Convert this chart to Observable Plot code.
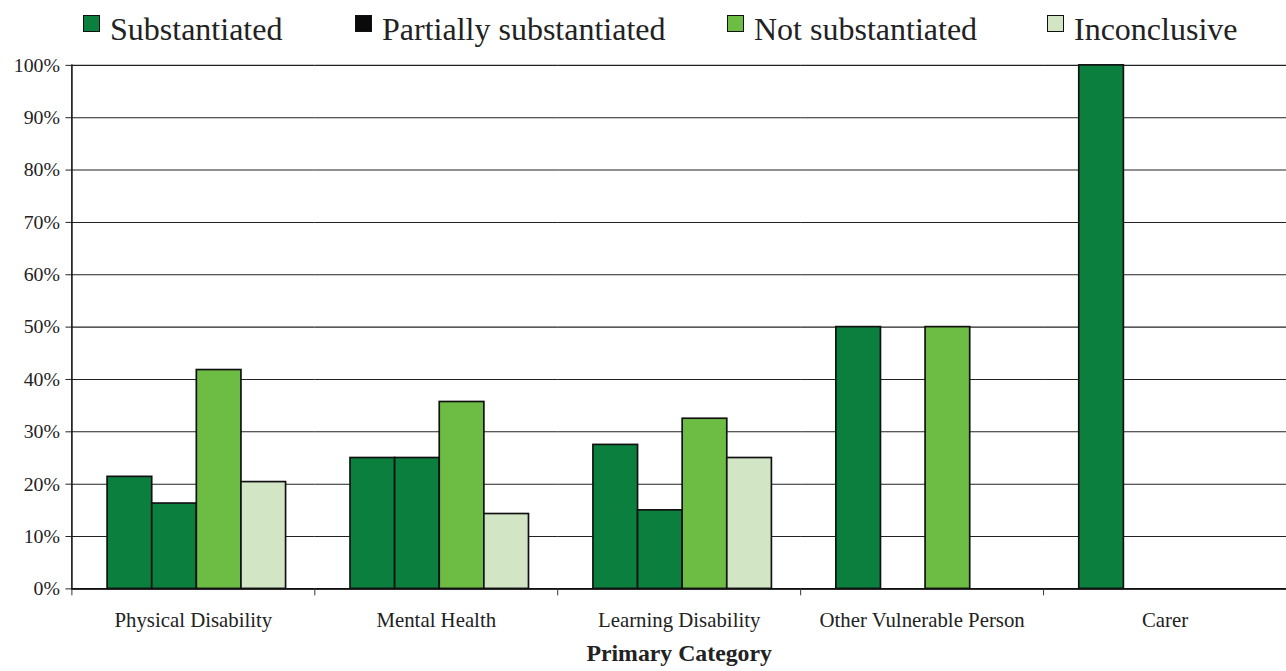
<!DOCTYPE html>
<html>
<head>
<meta charset="utf-8">
<script src="https://cdn.jsdelivr.net/npm/d3@7"></script>
<script src="https://cdn.jsdelivr.net/npm/@observablehq/plot@0.6"></script>
<style>
html, body { margin: 0; padding: 0; background: #fff; overflow: hidden; width: 1286px; height: 671px; }
#legend { position: relative; height: 50px; font-family: "Liberation Serif", "Times New Roman", serif; font-size: 32px; color: #222; }
#legend .item { position: absolute; top: 0; height: 50px; width: 360px; }
#legend .item:nth-child(1) { left: 83px; }
#legend .item:nth-child(2) { left: 355px; }
#legend .item:nth-child(3) { left: 727px; }
#legend .item:nth-child(4) { left: 1047px; }
#legend .sw { position: absolute; left: 0; top: 15px; width: 15px; height: 15px; border: 1.5px solid #111; }
#legend .tx { position: absolute; left: 27px; top: 13px; line-height: 32px; white-space: nowrap; }
#chart svg [aria-label="fx-axis label"] text { font-weight: bold; font-size: 24px; }
</style>
</head>
<body>
<div id="legend"></div>
<div id="chart"></div>
<script>
const categories = ["Physical Disability", "Mental Health", "Learning Disability", "Other Vulnerable Person", "Carer"];
const series = ["Substantiated", "Partially substantiated", "Not substantiated", "Inconclusive"];
const substantiated    = [21.4, 25.0, 27.5, 50, 100];
const partially        = [16.3, 25.0, 15.0, 0, 0];
const notSubstantiated = [41.8, 35.7, 32.5, 50, 0];
const inconclusive     = [20.4, 14.3, 25.0, 0, 0];
const yTicks = [0, 10, 20, 30, 40, 50, 60, 70, 80, 90, 100];
const barColors = ["#0b803e", "#0b803e", "#6dbd45", "#d2e6c6"];
const legendColors = ["#0b803e", "#0a0a0a", "#6dbd45", "#d2e6c6"];

const seriesValues = [substantiated, partially, notSubstantiated, inconclusive];
const rows = [];
categories.forEach((c, i) => {
  series.forEach((s, j) => {
    const v = seriesValues[j][i];
    if (v > 0) rows.push({category: c, series: s, value: v});
  });
});

const legend = document.getElementById("legend");
series.forEach((s, j) => {
  const item = document.createElement("div");
  item.className = "item";
  const sw = document.createElement("span");
  sw.className = "sw";
  sw.style.background = legendColors[j];
  const tx = document.createElement("span");
  tx.className = "tx";
  tx.textContent = s;
  item.appendChild(sw);
  item.appendChild(tx);
  legend.appendChild(item);
});

const chart = Plot.plot({
  width: 1297,
  height: 621,
  marginLeft: 72,
  marginRight: 0,
  marginTop: 15,
  marginBottom: 78,
  style: {fontFamily: "Liberation Serif, Times New Roman, serif", color: "#222", background: "#fff"},
  fx: {domain: categories, padding: 0},
  x: {domain: series, paddingInner: 0, paddingOuter: 0.72, align: 0.55, axis: null},
  y: {domain: [0, 100]},
  color: {domain: series, range: barColors},
  marks: [
    Plot.gridY(yTicks, {stroke: "#222", strokeOpacity: 1, strokeWidth: 1.1}),
    Plot.barY(rows, {fx: "category", x: "series", y: "value", fill: "series", stroke: "#111", strokeWidth: 1.7}),
    Plot.ruleY([0], {stroke: "#111", strokeWidth: 1.6}),
    Plot.frame({anchor: "left", facetAnchor: "left", stroke: "#111", strokeWidth: 1.6}),
    Plot.frame({anchor: "left", insetTop: 528, insetBottom: -6, stroke: "#333", strokeWidth: 1}),
    Plot.axisY(yTicks, {tickSize: 6, tickPadding: 6, tickFormat: d => d + "%", fontSize: 20, label: null, stroke: "#222"}),
    Plot.axisFx({anchor: "bottom", tickSize: 0, tickPadding: 24, fontSize: 21, label: "Primary Category", labelAnchor: "center", labelOffset: 73})
  ]
});
document.getElementById("chart").appendChild(chart);
</script>
</body>
</html>
